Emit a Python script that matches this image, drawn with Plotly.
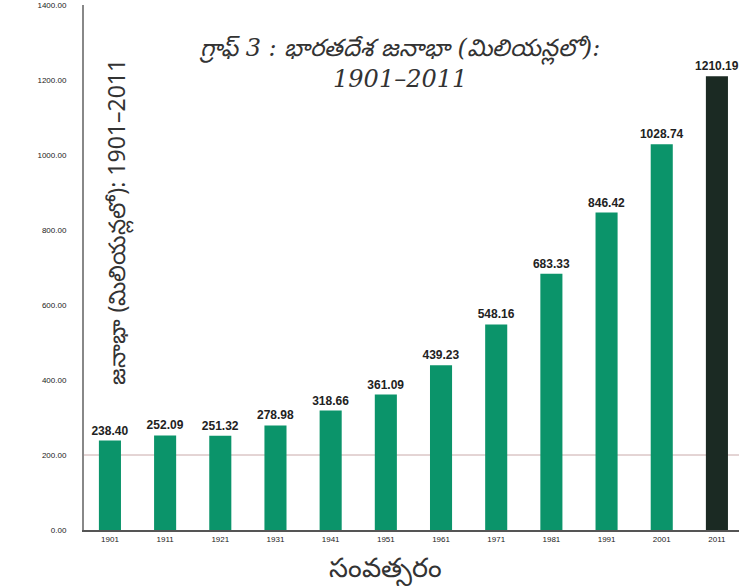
import plotly.graph_objects as go

years = ["1901", "1911", "1921", "1931", "1941", "1951", "1961", "1971", "1981", "1991", "2001", "2011"]
population = [238.40, 252.09, 251.32, 278.98, 318.66, 361.09, 439.23, 548.16, 683.33, 846.42, 1028.74, 1210.19]
y_ticks = [0, 200, 400, 600, 800, 1000, 1200, 1400]
y_tick_labels = ["0.00", "200.00", "400.00", "600.00", "800.00", "1000.00", "1200.00", "1400.00"]
ref_value = 200

title_line1 = "గ్రాఫ్ 3 : భారతదేశ జనాభా (మిలియన్లలో):"
title_line2 = "1901–2011"
y_title = "జనాభా (మిలియన్లలో): 1901–2011"
x_title = "సంవత్సరం"

GREEN = "#0b946a"
DARK = "#1b2a23"
colors = [GREEN] * (len(years) - 1) + [DARK]

fig = go.Figure()
fig.add_trace(go.Bar(
    x=years, y=population,
    marker=dict(color=colors, line=dict(width=0)),
    text=[f"<b>{v:.2f}</b>" for v in population],
    textposition="outside",
    constraintext="none",
    textfont=dict(size=12, color="#222222", family="Liberation Sans Narrow, Liberation Sans, Arial"),
    cliponaxis=False,
))

fig.add_shape(type="line", xref="paper", x0=0, x1=1, yref="y", y0=ref_value, y1=ref_value,
              line=dict(color="#c9aaaa", width=1), layer="below")

fig.add_annotation(text=f"<i>{title_line1}</i><br><i>{title_line2}</i>",
                   xref="paper", yref="paper", x=0.482, y=0.888, xanchor="center", yanchor="middle",
                   showarrow=False,
                   font=dict(size=24, color="#333333", family="DejaVu Serif, Noto Sans"),
                   align="center")
fig.add_annotation(text=y_title, textangle=-90,
                   xref="paper", yref="paper", x=0.05, y=0.587, xanchor="center", yanchor="middle",
                   showarrow=False,
                   font=dict(size=23, color="#333333", family="Noto Sans, DejaVu Sans"))
fig.add_annotation(text=x_title,
                   xref="paper", yref="paper", x=0.46, y=-0.072, xanchor="center", yanchor="middle",
                   showarrow=False,
                   font=dict(size=27, color="#333333", family="Noto Sans, DejaVu Sans"))

fig.update_layout(
    width=739, height=586,
    margin=dict(l=84, r=0, t=5, b=56, autoexpand=False),
    paper_bgcolor="white", plot_bgcolor="white",
    showlegend=False,
    bargap=0.6,
    xaxis=dict(type="category", range=[-0.47, 11.4], showline=True, linecolor="#555555", linewidth=2,
               ticks="", tickfont=dict(size=8, color="#222222", family="Liberation Sans"),
               showgrid=False, zeroline=False, automargin=False),
    yaxis=dict(range=[0, 1400], tickvals=y_ticks, ticktext=y_tick_labels,
               showline=True, linecolor="#888888", linewidth=2, ticks="",
               tickfont=dict(size=8, color="#222222", family="Liberation Sans"),
               ticklabelstandoff=14, showgrid=False, zeroline=False, automargin=False),
)

fig.write_html("out.html", config={"displayModeBar": False},
               post_script="document.body.style.margin='0';document.body.style.overflow='hidden';")
